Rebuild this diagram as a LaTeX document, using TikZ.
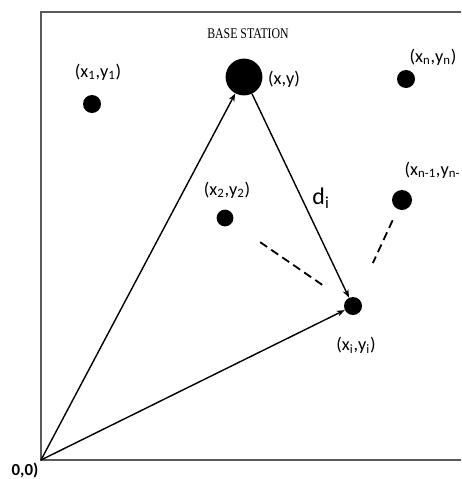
\documentclass[tikz,border=0pt]{standalone}
\usepackage{fontspec}
\setmainfont{Carlito}
\newfontfamily\stationfont{Liberation Serif}
\usetikzlibrary{arrows.meta}

\begin{document}
\begin{tikzpicture}[x=0.025cm, y=-0.025cm]
\tikzstyle{sensor} = [circle, fill=black, inner sep=0pt, minimum size=0.45cm]
\tikzstyle{coord} = [inner sep=1pt, font=\fontsize{13}{15}\selectfont]
\tikzstyle{line} = [draw, line width=1pt, -{Stealth[length=2mm, width=1.5mm]}]
\tikzstyle{link} = [draw, line width=1.3pt, dash pattern=on 6pt off 3.5pt]
\tikzstyle{frame} = [draw, line width=1.8pt, black!65]

\useasboundingbox (0,0) rectangle (461,479);
\path[frame] (461,12) -- (41,12) -- (41,460) -- (461,460);

\coordinate (o) at (41,460);
\node (bs) [sensor, minimum size=0.92cm] at (244,77) {};
\node (n1) [sensor] at (92,104) {};
\node (n2) [sensor, minimum size=0.42cm] at (225,218) {};
\node (nn) [sensor] at (406,79) {};
\node (nm) [sensor, minimum size=0.5cm] at (402,200) {};
\node (ni) [sensor] at (353,306) {};

\node (lbs) [inner sep=0pt, font=\stationfont\fontsize{10.5}{12}\selectfont, xscale=0.8] at (248,34) {BASE STATION};
\node (lxy) [coord] at (284,79) {(x,y)};
\node (l1) [coord] at (98,72) {(x\textsubscript{1},y\textsubscript{1})};
\node (ln) [coord] at (433,57) {(x\textsubscript{n},y\textsubscript{n})};
\node (l2) [coord] at (227,190) {(x\textsubscript{2},y\textsubscript{2})};
\node (lnm) [coord, anchor=west] at (403,170) {(x\textsubscript{n-1},y\textsubscript{n-}};
\node (li) [coord] at (356,345) {(x\textsubscript{i},y\textsubscript{i})};
\node (ld) [inner sep=0pt, font=\fontsize{17}{19}\selectfont] at (321,198) {d\textsubscript{i}};
\node (lo) [coord, font=\bfseries\fontsize{12}{14}\selectfont] at (25,471) {0,0)};

\path[line] (o) -- (bs);
\path[line] (o) -- (ni);
\path[line] (bs) -- (ni);
\path[link, shorten <=0.85cm, shorten >=0.6cm] (n2) -- (ni);
\path[link, shorten <=0.3cm, shorten >=0.95cm] (nm) -- (ni);
\end{tikzpicture}
\end{document}
